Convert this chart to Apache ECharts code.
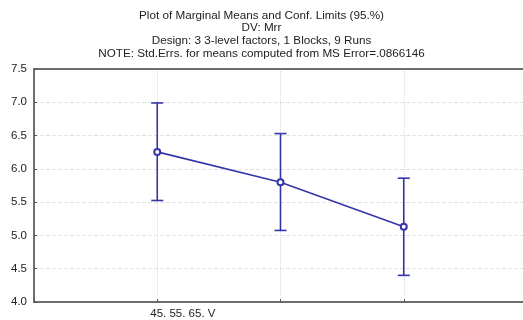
<!DOCTYPE html>
<html>
<head>
<meta charset="utf-8">
<script src="https://cdn.jsdelivr.net/npm/echarts@6/dist/echarts.min.js"></script>
<style>
  html, body { margin: 0; padding: 0; background: #fff; }
  #chart { width: 523px; height: 320px; }
</style>
</head>
<body>
<div id="chart"></div>
<script>
// Factor level label shown under the first mean
const categories = ['45. 55. 65. V', '', ''];
// Marginal means and their 95% confidence limits
const means = [6.255, 5.80, 5.13];
const lower = [5.525, 5.075, 4.40];
const upper = [6.99, 6.53, 5.86];
const yTicks = { min: 4.0, max: 7.5, interval: 0.5 };

const titleLines = [
  'Plot of Marginal Means and Conf. Limits (95.%)',
  'DV: Mrr',
  'Design: 3 3-level factors, 1 Blocks, 9 Runs',
  'NOTE: Std.Errs. for means computed from MS Error=.0866146'
];

// Padding slots on either side of the three levels
const axisData = [''].concat(categories, ['']);

const lineColor = '#3535a8';
const frameColor = '#6e6e6e';
const chart = echarts.init(document.getElementById('chart'));

chart.setOption({
  animation: false,
  title: {
    text: titleLines.join('\n'),
    left: 'center',
    top: 4,
    textStyle: {
      fontFamily: 'Liberation Sans, Arial, sans-serif',
      fontSize: 11.7,
      fontWeight: 'normal',
      color: '#222',
      lineHeight: 12.8
    }
  },
  grid: {
    left: 34, top: 69, bottom: 18, width: 493,
    outerBoundsMode: 'none',
    containLabel: false,
    show: true, borderColor: frameColor, borderWidth: 2, backgroundColor: '#fff'
  },
  xAxis: [
    {
      type: 'category',
      data: axisData,
      boundaryGap: false,
      axisLine: { show: true, lineStyle: { color: frameColor, width: 2 } },
      axisTick: { show: true, inside: true, length: 3, lineStyle: { color: '#555' } },
      axisLabel: {
        interval: 0,
        align: 'left',
        margin: 6,
        fontFamily: 'Liberation Sans, Arial, sans-serif',
        fontSize: 11.5,
        color: '#222',
        padding: [0, 0, 0, -7]
      },
      splitLine: { show: true, lineStyle: { color: '#dadada', type: 'dotted', width: 1 } }
    },
    {
      // top edge of the frame
      type: 'category',
      position: 'top',
      data: axisData,
      boundaryGap: false,
      axisLine: { show: true, lineStyle: { color: frameColor, width: 2 } },
      axisTick: { show: false },
      axisLabel: { show: false },
      splitLine: { show: false }
    }
  ],
  yAxis: {
    type: 'value',
    min: yTicks.min,
    max: yTicks.max,
    interval: yTicks.interval,
    axisLine: { show: true, lineStyle: { color: frameColor, width: 2 } },
    axisTick: { show: true, inside: true, length: 3, lineStyle: { color: '#555' } },
    axisLabel: {
      margin: 7,
      fontFamily: 'Liberation Sans, Arial, sans-serif',
      fontSize: 11.5,
      color: '#222',
      formatter: v => v.toFixed(1)
    },
    splitLine: { show: true, lineStyle: { color: '#e2e2e2', type: 'dashed', width: 1 } }
  },
  series: [
    {
      type: 'custom',
      z: 3,
      data: means.map((m, i) => [i + 1, lower[i], upper[i]]),
      renderItem: function (params, api) {
        const x = api.value(0);
        const lo = api.coord([x, api.value(1)]);
        const hi = api.coord([x, api.value(2)]);
        const cap = 6;
        const style = { stroke: lineColor, lineWidth: 1.6, fill: null };
        return {
          type: 'group',
          children: [
            { type: 'line', shape: { x1: lo[0], y1: lo[1], x2: hi[0], y2: hi[1] }, style: style },
            { type: 'line', shape: { x1: hi[0] - cap, y1: hi[1], x2: hi[0] + cap, y2: hi[1] }, style: style },
            { type: 'line', shape: { x1: lo[0] - cap, y1: lo[1], x2: lo[0] + cap, y2: lo[1] }, style: style }
          ]
        };
      }
    },
    {
      type: 'line',
      z: 4,
      data: means.map((m, i) => [i + 1, m]),
      symbol: 'emptyCircle',
      symbolSize: 6,
      lineStyle: { color: lineColor, width: 1.6 },
      itemStyle: { color: lineColor, borderWidth: 1.5 }
    }
  ]
});
</script>
</body>
</html>
